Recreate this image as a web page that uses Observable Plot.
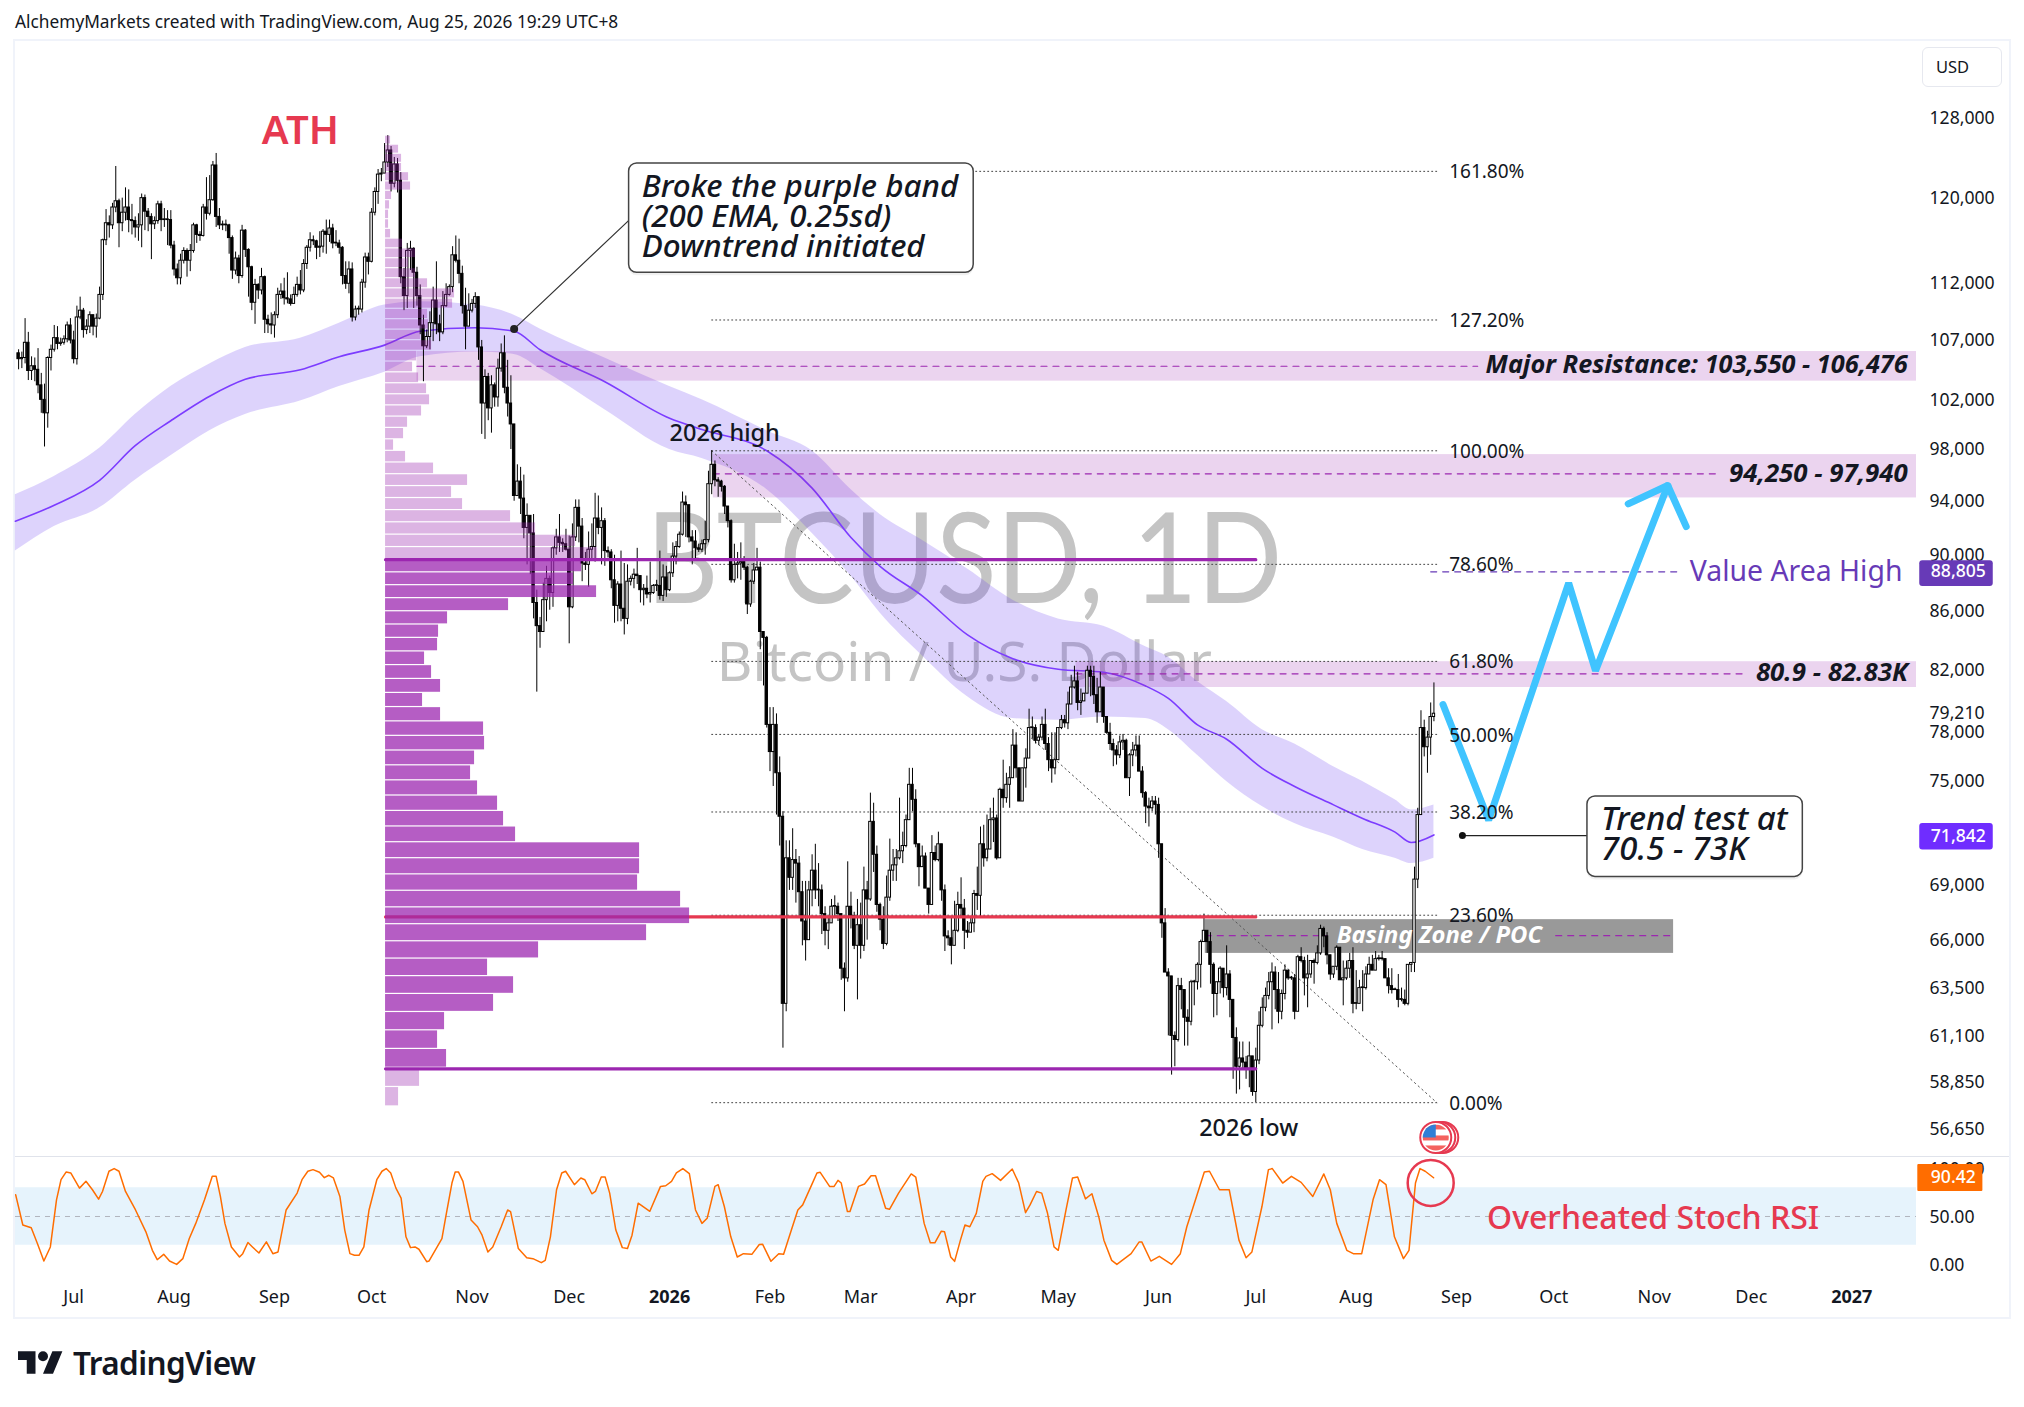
<!DOCTYPE html>
<html><head><meta charset="utf-8">
<script src="https://cdn.jsdelivr.net/npm/d3@7"></script>
<script src="https://cdn.jsdelivr.net/npm/@observablehq/plot@0.6"></script>
<style>
html,body{margin:0;padding:0;background:#fff;width:2024px;height:1407px;overflow:hidden;font-family:"Noto Sans",sans-serif;color:#131722}
#head{position:absolute;left:15px;top:10px;font-size:17.3px;white-space:nowrap}
#frame{position:absolute;left:13px;top:39px;width:1994px;height:1276px;border:2px solid #f0f3fa}
#main,#osc{position:absolute;left:0}
#main{top:0}#osc{top:1115px}
#main svg,#osc svg{display:block;overflow:visible}
#sep{position:absolute;left:0;top:1115px;width:1994px;height:1px;background:#e0e3eb}
#usd{position:absolute;left:1907px;top:6px;width:78px;height:38px;border:1px solid #e6e8ef;border-radius:6px;font-size:16.5px;line-height:38px;text-indent:13px}
#logo{position:absolute;left:18px;top:1347px;height:30px;display:flex;align-items:center;gap:10px;font-size:31.5px;font-weight:600;letter-spacing:-.6px;color:#131722}
</style></head><body>
<div id="head">AlchemyMarkets created with TradingView.com, Aug 25, 2026 19:29 UTC+8</div>
<div id="frame"><div id="main"></div><div id="osc"></div><div id="sep"></div><div id="usd">USD</div></div>
<div id="logo"><svg width="45" height="23" viewBox="0 4 36 18"><path fill="#131722" d="M14 22H7V11H0V4h14v18zM28 22h-8l7.5-18h8L28 22z"/><circle fill="#131722" cx="20" cy="8" r="4"/></svg><span>TradingView</span></div>
<script>
// Daily closes, highs and lows in thousands of USD, one value per day from 14 Jun 2025
const closes=[
105.4,105.5,106.8,104.4,104.8,104.5,103.2,102.0,100.9,105.5,
106.2,107.2,106.7,106.8,107.1,108.3,107.0,105.4,109.0,109.6,
107.9,108.2,109.2,108.2,108.9,111.0,116.0,117.6,117.4,119.1,
119.7,117.6,118.6,119.1,117.9,117.8,117.2,117.4,120.0,118.7,
118.2,117.5,117.8,119.4,117.9,117.9,117.9,115.5,113.3,112.5,
114.1,115.0,114.1,115.0,117.4,116.5,116.4,119.1,118.5,119.8,
123.2,118.2,117.4,117.4,117.4,116.2,113.2,114.3,112.7,116.9,
115.1,113.5,110.3,111.9,111.4,112.6,108.8,108.4,108.3,109.2,
111.0,111.3,110.7,110.6,110.2,111.0,111.9,111.4,113.8,115.3,
116.0,115.9,115.3,115.4,116.8,116.5,117.1,115.7,115.7,115.3,
112.7,112.0,113.3,109.0,109.7,109.7,112.1,114.4,114.0,118.6,
120.6,122.3,122.4,123.5,124.7,121.4,123.3,121.7,112.6,110.9,
115.0,115.2,113.0,110.9,108.3,106.5,107.3,108.5,110.5,108.4,
107.7,110.0,111.0,111.7,114.6,114.1,112.9,110.0,108.2,109.6,
110.2,110.8,106.4,101.7,103.9,101.3,103.2,102.2,104.6,105.9,
103.0,101.7,100.0,94.4,95.5,94.2,92.0,92.9,91.6,86.6,
85.0,84.6,86.8,88.3,87.3,90.5,91.3,90.9,90.8,90.4,
86.3,91.3,93.5,92.1,89.4,89.3,90.4,90.6,92.7,92.0,
92.5,90.3,90.2,88.2,86.4,87.9,86.2,85.5,88.1,88.3,
88.6,88.5,87.5,87.6,87.2,87.3,87.8,87.8,87.1,88.4,
87.5,88.7,89.9,90.6,91.5,93.9,93.7,91.3,91.0,90.5,
90.4,90.8,91.1,95.3,96.8,95.6,95.5,95.1,93.6,92.5,
88.2,89.3,89.4,89.5,89.1,86.5,88.1,88.9,89.1,84.6,
84.2,78.5,76.8,78.5,75.5,72.9,62.7,70.5,69.4,70.4,
70.2,68.6,67.0,66.0,68.7,69.8,68.7,68.7,67.4,66.5,
66.9,67.8,67.8,67.4,64.5,64.0,67.8,67.3,65.7,66.8,
65.7,68.7,68.2,72.6,70.7,67.9,67.1,65.8,68.3,69.8,
70.1,70.5,70.9,71.2,72.7,74.8,73.9,71.3,70.0,70.6,
68.8,67.9,70.8,70.4,71.3,68.7,66.2,66.1,65.7,66.5,
67.9,67.7,66.5,66.4,66.9,68.5,68.4,71.3,70.5,71.0,
72.7,72.8,70.5,74.5,74.0,74.8,75.2,77.2,75.8,73.8,
75.8,76.4,78.3,78.3,77.5,77.7,78.5,77.3,76.3,75.8,
76.3,78.3,78.8,78.6,79.8,80.9,81.3,79.9,80.0,80.5,
82.0,81.6,80.4,79.3,80.9,79.0,78.0,77.3,76.9,76.6,
77.4,77.5,75.2,76.6,76.9,77.2,75.6,74.3,73.5,73.4,
73.8,73.6,71.3,66.9,64.3,64.1,61.1,60.9,63.6,63.4,
62.0,61.8,63.8,63.8,64.7,65.9,66.5,65.9,64.7,63.2,
63.8,64.5,63.5,64.2,62.9,61.0,59.6,60.0,59.8,59.5,
60.1,58.4,59.9,61.6,62.5,63.1,63.8,64.3,63.4,62.3,
63.2,64.4,64.0,64.0,62.3,65.1,64.9,64.0,64.2,64.9,
64.8,65.3,66.6,66.2,65.2,64.2,64.6,65.6,63.9,64.0,
64.5,64.9,62.7,62.7,63.5,63.5,64.2,64.7,64.4,65.0,
65.0,65.0,64.0,63.6,63.4,63.4,62.9,62.9,62.7,64.7,
64.8,69.3,73.0,78.3,77.1,77.7,79.0,79.21];
const highs=[
106.2,106.0,108.9,107.7,105.6,105.5,106.3,104.2,103.3,105.6,
106.6,108.3,108.2,107.2,107.4,108.6,108.9,107.8,110.0,110.8,
109.8,108.8,109.5,109.2,109.3,111.7,116.1,118.9,118.3,119.5,
123.1,119.9,120.0,121.0,120.8,119.4,118.2,118.5,120.4,120.3,
119.0,118.5,118.2,119.7,119.7,119.0,118.8,118.8,115.9,113.8,
114.7,115.3,115.2,115.6,117.6,117.5,116.8,119.4,122.0,122.2,
123.6,124.4,119.0,117.8,117.9,117.5,116.4,114.9,114.6,117.4,
117.0,115.2,113.6,112.4,112.0,113.4,112.7,109.2,109.4,109.5,
111.6,112.0,112.5,113.0,111.0,111.7,112.6,113.2,114.2,115.5,
116.7,116.4,116.0,116.8,117.0,117.9,117.9,117.5,116.9,116.0,
115.4,114.0,114.0,113.9,110.0,110.0,112.4,114.8,114.8,119.0,
121.0,122.8,122.9,125.4,126.2,125.1,124.0,123.9,122.5,113.4,
115.7,115.9,115.3,113.5,111.9,109.2,107.9,109.5,111.7,114.0,
109.2,111.3,112.0,111.9,115.4,116.4,116.1,113.6,111.6,111.1,
110.6,111.2,110.8,107.0,104.5,104.2,104.0,103.4,105.4,106.7,
107.4,105.3,104.0,99.8,96.8,96.6,96.0,93.8,92.8,93.0,
87.5,85.6,88.0,89.2,88.5,90.6,91.9,93.0,91.2,91.9,
91.4,92.3,94.1,94.1,92.7,90.2,91.7,92.3,94.6,94.4,
93.5,92.7,90.6,90.4,90.0,88.1,90.3,89.4,89.3,88.5,
89.0,90.5,88.0,87.9,88.5,89.5,87.9,88.2,90.3,89.3,
89.2,88.8,90.9,91.0,91.7,94.7,94.4,93.5,91.8,91.8,
90.8,91.1,92.5,96.3,97.9,97.1,95.8,95.6,95.2,93.6,
92.6,90.8,90.2,90.9,89.9,89.2,88.2,89.4,90.5,89.5,
84.3,84.3,79.6,79.6,79.2,76.5,73.2,71.5,71.5,72.2,
71.0,70.6,69.2,69.2,69.2,70.7,71.3,70.2,69.0,67.8,
67.2,68.2,68.4,68.0,67.4,64.8,70.3,68.6,67.5,68.2,
68.0,70.0,69.2,74.3,73.7,71.2,68.0,67.8,69.5,71.6,
71.0,71.0,74.0,72.0,73.0,75.8,75.8,74.5,71.2,71.2,
70.8,68.8,71.8,71.2,72.0,71.2,69.0,66.5,67.2,68.1,
68.6,69.4,68.2,67.0,67.2,68.7,70.0,72.3,72.4,73.0,
73.4,74.0,73.0,74.6,76.3,75.5,75.9,78.2,78.0,75.6,
75.6,77.0,79.5,79.0,78.5,77.9,79.0,79.5,77.7,78.0,
78.0,78.3,79.1,79.1,80.6,81.7,82.3,81.9,80.8,80.5,
82.3,82.3,82.3,81.5,81.9,80.9,78.4,78.6,77.6,77.2,
77.8,77.9,77.6,76.7,77.4,77.8,77.8,75.9,74.4,74.0,
74.1,74.1,74.0,71.3,67.7,64.5,64.0,61.3,64.0,64.0,
63.1,62.4,63.9,63.9,64.8,66.0,67.4,66.3,66.4,64.8,
63.8,64.6,64.4,65.7,64.4,62.5,61.5,60.8,60.8,60.1,
60.8,60.1,60.5,62.3,63.0,63.5,64.3,64.8,64.6,64.3,
63.4,64.7,64.4,64.1,64.2,65.2,65.6,65.1,65.2,64.9,
65.0,65.7,66.8,66.7,66.4,65.2,64.6,65.7,65.6,64.9,
64.9,65.3,65.6,64.4,63.9,64.4,64.6,65.1,65.2,65.4,
65.2,65.4,65.0,64.5,64.5,63.5,64.2,63.5,63.4,64.7,
64.8,70.0,73.4,79.4,78.8,78.1,79.9,81.2];
const lows=[
104.5,104.6,105.0,103.6,103.6,103.5,102.5,100.9,98.2,99.7,
104.4,106.0,106.2,106.5,106.6,106.8,106.7,105.0,104.9,108.8,
107.2,107.5,107.6,107.4,107.2,108.8,110.5,115.5,116.2,117.0,
118.6,115.3,116.8,117.8,116.7,116.5,116.2,115.9,115.3,116.9,
116.8,114.2,117.0,117.5,116.8,117.2,115.5,115.2,112.7,111.9,
111.9,113.8,112.6,113.1,114.8,115.7,115.9,116.3,117.9,118.3,
119.7,117.2,117.0,116.9,116.8,114.7,112.4,112.8,112.0,112.5,
114.4,110.8,109.6,108.4,110.6,111.0,107.6,107.6,107.5,107.2,
108.9,110.6,110.1,110.2,110.0,110.2,110.8,111.0,111.2,113.3,
114.9,115.5,114.2,114.4,114.8,114.7,115.8,115.2,115.4,114.7,
111.9,111.5,111.1,108.6,108.7,109.2,109.4,111.6,112.8,113.9,
118.3,119.4,121.6,122.4,123.0,120.6,121.0,120.5,112.0,109.6,
109.8,113.2,109.8,110.0,107.5,103.5,106.3,106.2,106.9,107.5,
106.9,107.5,109.9,110.9,111.2,113.9,112.0,109.3,106.2,108.3,
109.4,109.8,105.3,99.2,98.8,100.3,99.3,101.4,101.4,104.3,
102.5,100.6,98.0,94.0,94.6,93.0,91.2,89.3,88.6,85.5,
80.6,83.5,84.7,85.3,86.1,86.3,90.0,90.2,90.2,90.3,
83.8,86.2,91.0,90.9,88.1,88.9,87.7,89.6,89.5,91.5,
89.3,89.2,89.8,87.6,85.2,85.3,85.3,84.4,85.1,87.8,
87.6,87.9,86.6,86.4,86.9,86.6,87.2,87.4,86.8,86.7,
87.0,87.4,88.4,89.3,90.5,91.4,91.3,90.9,89.3,89.6,
90.2,90.2,90.0,90.9,94.5,95.1,94.3,94.7,93.0,92.0,
88.0,88.0,88.3,88.2,88.9,85.8,86.3,87.9,88.9,83.4,
81.0,78.3,75.6,74.7,73.0,71.2,60.5,62.3,68.7,68.7,
68.0,67.2,65.7,64.9,66.3,67.8,68.2,67.8,66.3,65.7,
65.5,66.9,67.2,67.0,63.9,62.3,63.8,66.6,65.5,62.9,
65.0,65.4,66.0,68.1,69.7,67.5,66.5,65.5,65.7,68.1,
69.2,69.2,70.4,70.2,71.1,72.7,73.2,71.1,68.9,70.0,
68.8,67.4,67.9,70.3,70.3,68.1,65.4,65.7,64.7,65.7,
66.4,67.2,65.5,66.1,66.8,66.4,67.6,67.2,70.0,70.3,
71.4,71.4,70.4,70.5,73.4,73.7,73.4,75.2,75.2,73.8,
73.8,74.6,76.4,77.6,77.3,77.2,77.5,76.9,75.6,74.9,
75.4,76.3,78.2,78.3,78.2,80.3,80.8,79.4,79.1,80.0,
80.5,80.3,79.8,78.6,79.3,78.6,77.9,76.9,75.9,76.0,
76.4,76.9,75.2,74.1,75.9,76.5,75.6,74.0,72.5,72.3,
73.2,73.0,70.5,66.1,64.3,61.1,59.2,59.6,60.8,62.4,
60.6,60.6,61.6,62.6,63.4,63.5,65.9,65.3,63.7,62.0,
62.1,63.2,63.0,63.1,62.0,59.0,58.3,58.5,59.5,59.0,
58.6,58.2,57.9,59.7,61.5,62.3,62.9,61.4,62.4,61.7,
61.9,62.9,63.9,63.9,61.9,62.3,64.8,63.1,62.5,64.0,
63.7,64.7,65.2,65.6,64.7,63.9,64.0,64.4,63.9,62.6,
63.9,64.0,62.2,62.4,62.7,62.3,63.4,64.3,64.4,64.5,
64.9,64.9,64.0,63.2,63.2,63.4,62.5,62.8,62.6,62.6,
64.3,64.3,68.8,73.0,76.5,75.5,76.6,78.7];

// EMA band, read at these days (offset from 1 Jan 2026)
const emaDays=[-202,-190,-176,-165,-154,-142,-131,-114,-102,-88,-77,-60,-48,-40,-20,0,10,30,44,56,65,78,92,106,120,134,147,154,163,172,183,193,205,214,224,229,236];
const emaLine=[92.5,93.7,95.6,98.3,100.3,102.3,103.7,104.5,105.6,106.6,107.8,108.1,107.8,106.2,103.5,100.5,99.6,97.9,95,91.3,89.2,87.1,84.4,82.8,82.1,81.9,81,80.2,78.5,77.6,75.8,74.7,73.6,72.8,72,71.4,71.84];
const emaTop=[94.5,95.9,98.1,100.8,103.1,105,106.4,107.2,108.5,110.1,110.4,110.1,109.2,108,105.5,103.1,102,99.5,97.9,94.9,93,91.1,89,86.8,85.5,85,83.6,82.9,81.3,80,78.2,77.3,75.9,75,73.9,73.3,73.6];
const emaBottom=[90.3,92.1,93.5,95.6,97.5,99.5,100.8,101.9,103.1,104.3,105.6,106,105.8,104.6,101.2,98,97.3,94.9,91.6,88.5,85.9,83,80.3,78.9,78.8,79,78.9,78.2,76.6,75,73.5,72.5,71.7,71,70.5,70.2,70.5];

// Volume profile, top row first, each row one equal price bucket
const profileVolume=[5,13,16,16,23,25,6,4,3,3,5,17,30,23,30,42,69,67,42,43,35,46,31,27,33,41,44,36,22,18,8,20,48,82,66,77,125,150,190,212,196,188,211,123,62,53,52,39,46,55,37,55,98,99,89,85,92,112,118,130,254,254,252,295,304,261,153,102,128,108,59,52,61,34,13];

// Stochastic RSI
const stochDay=[-201.9,-199.7,-197.1,-195.2,-193.2,-191.2,-189.3,-187.9,-186.3,-184.9,-182.2,-180.2,-178.2,-176.3,-175.1,-173.1,-171.5,-170,-168,-164.9,-161.7,-159.7,-158.2,-156.2,-154.4,-152.2,-150.3,-148.3,-146.3,-143.6,-141.2,-140,-138.7,-137.3,-135.3,-132.8,-131.8,-130.2,-128.8,-126.8,-124.5,-122.5,-120.9,-118.4,-115,-113.5,-111.7,-110.1,-108.1,-106.6,-105.2,-103.8,-101.8,-100.3,-98.7,-97.3,-95.9,-94.4,-92.8,-90.4,-88.8,-87.5,-86.1,-84.5,-82.9,-81.4,-80,-78.6,-77.4,-75,-74.3,-70.3,-69.1,-67.2,-66.2,-65.2,-63.8,-61.3,-59.3,-57.9,-56.1,-54.6,-52,-50,-49.1,-46.7,-44.1,-42.2,-39.6,-38.4,-36.8,-34.9,-33.3,-32.1,-29.4,-27.4,-26.2,-24,-22.9,-21.1,-19.9,-18.5,-16.6,-14.6,-13,-11.6,-9.7,-6.1,-2.8,-1.2,0.6,2.1,4.1,6.1,8,10,11.6,14,15,16.9,18.9,20.9,22.8,25.4,27.7,28.7,31.3,33.7,35.2,37.6,39.6,41.1,43.9,45.5,46.5,49.4,50.8,52,53,54.9,55.7,58.3,60.2,62.2,63.6,66.7,67.9,70.7,74.6,76,78.6,80.5,81.9,83.9,84.9,86.8,88,89.8,91.2,92.7,94.7,96.7,97.7,99.6,102.2,105.8,107.8,109.9,111.3,113.3,114.9,116.7,118.7,120,122.4,124.4,126,128.4,130.4,132.5,134.1,136.5,138.1,142.5,145,145.8,148.6,151.2,155,157.7,159.7,162.7,165.1,166.7,169.8,172.8,175.8,178,179.8,182.9,184.9,186.1,189.3,192,195,198.6,202,204,206,209.1,211.1,213.7,217.2,219.2,221.2,223.8,226.6,228.3,230.3,231.7,233.3,235.9];
const stochValue=[72.6,41.1,38.2,21.8,3.5,18.2,67.4,88.4,96.5,95.4,79.6,86.7,77.9,68.1,76.1,97.2,100,97.2,76.1,56.8,34,14.7,4.9,10.5,3.5,0,6,27,42.8,67.4,91.9,91.9,70.9,42.8,18.2,7.7,11.2,22.8,18.2,11.9,23.5,11.2,13,56.8,74.4,88.4,97.2,98.9,96.1,90.5,93,90.2,70.9,35.8,11.2,9.5,9.5,18.2,56.8,88.4,97.2,100,95.4,79.6,69.1,28.8,17.5,18.2,15.8,2.8,3.5,27,49.8,84.9,96.5,96.5,86.7,46.3,39.3,30.5,13,18.2,39.3,56.8,55.1,16.5,7,6,1.8,4.2,28.8,77.9,95.4,97.2,83.2,90.2,88.4,73.7,76.1,91.2,91.2,74.4,35.8,17.5,16.5,30.5,63.9,55.4,81.4,82.1,86.7,95.4,100,94.7,56.8,42.8,48.1,81.4,83.2,60.4,28.8,7.7,11.2,10.5,20.7,21.1,3.2,11.2,10.5,35.8,56.8,62.1,83.2,95.4,96.1,81.4,81.4,87.7,84.9,55.1,55.1,81.4,83.9,92.6,92.6,58.6,57.5,74.4,94.4,91.2,42.8,22.5,22.5,34.7,34,7.7,3.2,25.3,41.1,39.3,53.3,86.7,91.9,94.7,87.7,99.6,84.9,54,62.1,76.1,74.4,53.3,18.2,14.7,56.8,90.2,91.2,68.4,73.7,49.8,25.3,4.2,0,11.2,23.5,23.5,3.5,8.4,0,11.2,39.3,70.9,96.5,97.2,77.9,77.9,25.3,7,13,60.4,98.9,100,84.9,91.9,85.6,70.9,94.4,77.9,42.8,14.7,11.2,11.2,67.4,88.4,83.2,28.8,6,14.7,84.9,100,97.2,90.42];

// Axis ticks and labels
const priceTicks=[128,120,112,107,102,98,94,90,86,82,79.21,78,75,69,66,63.5,61.1,58.85,56.65];
const monthTicks=[["Jul",-184],["Aug",-153],["Sep",-122],["Oct",-92],["Nov",-61],["Dec",-31],["Feb",31],["Mar",59],["Apr",90],["May",120],["Jun",151],["Jul",181],["Aug",212],["Sep",243],["Oct",273],["Nov",304],["Dec",334]];
const yearTicks=[["2026",0],["2027",365]];

// Fibonacci levels (ratio, price in thousands)
const fibLevels=[[0,"0.00%",57.9],[.236,"23.60%",67.34],[.382,"38.20%",73.18],[.5,"50.00%",77.9],[.618,"61.80%",82.62],[.786,"78.60%",89.34],[1,"100.00%",97.9],[1.272,"127.20%",108.78],[1.618,"161.80%",122.62]];

// Zones: start day, low, high, midline, dash end day
const zones=[[-78,103.55,106.05,104.8,249.5],[13.5,94.25,97.6,96.1,323.8],[125.5,80.9,82.6,81.8,332.4]];

// Forecast path drawn in cyan (day, price)
const pathDays=[238.8,252.9,277.6,285.9,308.2];
const pathPrices=[79.8,72.7,88,82,95.2];
const headDays=[296,308.2,313.9];
const headPrices=[93.8,95.2,92.1];

const FONT='"Noto Sans",sans-serif';
const day=d=>new Date(Date.UTC(2026,0,1)+d*864e5);
const xDomain=[day(-201.96),day(385)];
const profileStart=-87.7;
const candles=closes.map((c,i)=>{
  const o=i?closes[i-1]:105.9;
  const d=i-201;
  const top=Math.max(o,c),bot=Math.min(o,c);
  return {t:day(d),a:day(d-.37),b:day(d+.37),o,c,top:Math.max(top,bot*1.0006),bot,hi:Math.max(highs[i],top),lo:Math.min(lows[i],bot),up:c>=o};
});
const ema=emaDays.map((d,i)=>({t:day(d),v:emaLine[i],a:emaTop[i],b:emaBottom[i]}));
const rows=profileVolume.map((v,i)=>({hi:126.2-i*.913,lo:126.2-(i+1)*.913,a:day(profileStart),b:day(profileStart+v/3.2384),va:i>=40&&i<=72}));
const seg=(a,b,p)=>[{t:day(a),v:p},{t:day(b),v:p}];
const PURPLE="#9c27b0",RED="#e63950";
const T=(txt,d,p,o={})=>Plot.text([txt],{x:day(d),y:p,text:x=>x,fontFamily:FONT,textAnchor:"start",lineAnchor:"middle",fill:"#131722",...o});
const dashed=(a,b,p,c=PURPLE)=>Plot.line(seg(a,b,p),{x:"t",y:"v",stroke:c,strokeWidth:1.2,strokeDasharray:"6,6"});
const box=(a,b,lo,hi,o)=>Plot.rect([0],{x1:day(a),x2:day(b),y1:lo,y2:hi,...o});

const flag="data:image/svg+xml,"+encodeURIComponent('<svg xmlns="http://www.w3.org/2000/svg" viewBox="0 0 44 36"><circle cx="25" cy="18" r="15.5" fill="#fff" stroke="#e63950" stroke-width="2"/><circle cx="22" cy="18" r="15.5" fill="#fff" stroke="#e63950" stroke-width="2"/><circle cx="18" cy="18" r="15.5" fill="#fff" stroke="#e63950" stroke-width="2"/><clipPath id="c"><circle cx="18" cy="18" r="13"/></clipPath><g clip-path="url(#c)"><rect x="3" y="5" width="30" height="26" fill="#fff"/><rect x="3" y="16" width="30" height="5" fill="#f4625f"/><rect x="3" y="26" width="30" height="6" fill="#f4625f"/><rect x="3" y="5" width="30" height="5" fill="#f4625f"/><rect x="3" y="4" width="15" height="14" fill="#2f7fd6"/></g></svg>');

const main=Plot.plot({
  width:1994,height:1115,marginTop:0,marginBottom:0,marginLeft:0,marginRight:93,
  style:{fontFamily:FONT,background:"transparent",overflow:"visible"},
  x:{type:"utc",domain:xDomain,axis:null},
  y:{type:"log",domain:[55.443,136.143],axis:null},
  marks:[
    // watermark
    T("BTCUSD, 1D",91,89.5,{textAnchor:"middle",fontFamily:'Lato,sans-serif',fontSize:127,fill:"#c4c4c4",fontWeight:400}),
    T("Bitcoin / U.S. Dollar",91,82.5,{textAnchor:"middle",fontSize:55,fill:"#c4c4c4"}),
    // EMA band
    Plot.areaY(ema,{x:"t",y1:"b",y2:"a",fill:"#6a3ff0",fillOpacity:.23,curve:"monotone-x"}),
    Plot.line(ema,{x:"t",y:"v",stroke:"#7c3cff",strokeWidth:1.6,curve:"monotone-x"}),
    // zones
    ...zones.map(z=>box(z[0],385,z[1],z[2],{fill:PURPLE,fillOpacity:.2})),
    ...zones.map(z=>dashed(z[0],z[4],z[3])),
    box(165.4,310,65.3,67.1,{fill:"#999"}),
    dashed(165.4,203,66.24),dashed(273.6,309,66.24),
    dashed(235,311,88.805,"#673ab7"),
    // fib
    ...fibLevels.map(f=>Plot.line(seg(13,236.9,f[2]),{x:"t",y:"v",stroke:"#444",strokeWidth:1,strokeDasharray:"1,3"})),
    Plot.line([{t:day(13),v:97.9},{t:day(236.9),v:57.9}],{x:"t",y:"v",stroke:"#555",strokeWidth:1,strokeDasharray:"1.5,3.5"}),
    // candles
    Plot.ruleX(candles,{x:"t",y1:"lo",y2:"hi",stroke:"#000",strokeWidth:1}),
    Plot.rect(candles,{x1:"a",x2:"b",y1:"bot",y2:"top",fill:d=>d.up?"#fff":"#000",stroke:"#000",strokeWidth:1}),
    // profile lines and rows
    Plot.line(seg(profileStart,181,89.68),{x:"t",y:"v",stroke:PURPLE,strokeWidth:3.2}),
    Plot.line(seg(profileStart,181,67.25),{x:"t",y:"v",stroke:RED,strokeWidth:3.2}),
    Plot.line(seg(profileStart,181,59.5),{x:"t",y:"v",stroke:PURPLE,strokeWidth:3.2}),
    Plot.rect(rows,{x1:"a",x2:"b",y1:"lo",y2:"hi",insetTop:.6,insetBottom:.6,fill:PURPLE,fillOpacity:d=>d.va?.75:.35}),
    // forecast
    Plot.line(pathDays.map((d,i)=>({t:day(d),v:pathPrices[i]})),{x:"t",y:"v",stroke:"#40c4ff",strokeWidth:7,strokeLinecap:"round",strokeLinejoin:"miter"}),
    Plot.line(headDays.map((d,i)=>({t:day(d),v:headPrices[i]})),{x:"t",y:"v",stroke:"#40c4ff",strokeWidth:7,strokeLinecap:"round",strokeLinejoin:"miter"}),
    // fib labels
    ...fibLevels.map(f=>T(f[1],240.7,f[2],{fontSize:19,dy:1})),
    // labels
    T("ATH",-114,126.7,{textAnchor:"middle",fontSize:40,fontWeight:600,fill:RED}),
    T("2026 high",17,99.3,{textAnchor:"middle",fontSize:23.5,fontWeight:500}),
    T("2026 low",178.8,56.7,{textAnchor:"middle",fontSize:23.5,fontWeight:500}),
    T("Major Resistance: 103,550 - 106,476",385-2.7,104.9,{textAnchor:"end",fontSize:25.3,fontWeight:700,fontStyle:"italic"}),
    T("94,250 - 97,940",385-2.7,96.1,{textAnchor:"end",fontSize:25.8,fontWeight:700,fontStyle:"italic"}),
    T("80.9 - 82.83K",385-2.7,81.85,{textAnchor:"end",fontSize:25.8,fontWeight:700,fontStyle:"italic"}),
    T("Basing Zone / POC",206,66.24,{fontSize:23.8,fontWeight:700,fontStyle:"italic",fill:"#fff"}),
    T("Value Area High",315,88.805,{fontSize:28.4,fill:"#673ab7"}),
    // callouts
    Plot.line([{t:day(-12.5),v:117.9},{t:day(-48),v:108}],{x:"t",y:"v",stroke:"#333",strokeWidth:1.2}),
    Plot.dot([0],{x:day(-48),y:108,r:4,fill:"#222"}),
    box(-12.5,93.9,113,123.4,{fill:"#000",fillOpacity:.06,rx:8,dy:3}),
    box(-12.5,93.9,113,123.4,{fill:"#fff",stroke:"#444",strokeWidth:1.5,rx:8}),
    T("Broke the purple band",-8.6,121.1,{fontSize:31.4,fontWeight:500,fontStyle:"italic"}),
    T("(200 EMA, 0.25sd)",-8.6,118.2,{fontSize:31.4,fontWeight:500,fontStyle:"italic"}),
    T("Downtrend initiated",-8.6,115.4,{fontSize:31.4,fontWeight:500,fontStyle:"italic"}),
    Plot.line(seg(244.8,283.4,71.8),{x:"t",y:"v",stroke:"#222",strokeWidth:1.2}),
    Plot.dot([0],{x:day(244.8),y:71.8,r:3.5,fill:"#111"}),
    box(283.4,349.9,69.45,74.1,{fill:"#000",fillOpacity:.06,rx:8,dy:3}),
    box(283.4,349.9,69.45,74.1,{fill:"#fff",stroke:"#444",strokeWidth:1.5,rx:8}),
    T("Trend test at",287.6,72.75,{fontSize:33,fontWeight:500,fontStyle:"italic"}),
    T("70.5 - 73K",287.6,71.0,{fontSize:33,fontWeight:500,fontStyle:"italic"}),
    Plot.image([0],{x:day(237.8),y:56.3,width:44,height:36,src:flag}),
    // price axis
    Plot.axisY(priceTicks,{anchor:"right",tickSize:0,tickPadding:13,label:null,tickFormat:d=>d3.format(",")(Math.round(d*1000)),fontSize:17.6,fill:"#131722",textStroke:"#fff"}),
    box(386,408.7,87.76,89.6,{fill:"#673ab7",rx:3}),
    T("88,805",389.4,88.805,{fontSize:17.6,fontWeight:500,fill:"#fff"}),
    box(386,408.7,70.97,72.5,{fill:"#6f2dff",rx:3}),
    T("71,842",389.4,71.78,{fontSize:17.6,fontWeight:500,fill:"#fff"})
  ]
});
document.getElementById("main").append(main);
// The watermark's typeface runs wider than the reference: fit it to the reference's width
main.querySelectorAll("text").forEach(t=>{
  if(t.textContent==="BTCUSD, 1D"){t.setAttribute("textLength",636);t.setAttribute("lengthAdjust","spacingAndGlyphs");}
});

const stoch=stochDay.map((d,i)=>({t:day(d),v:stochValue[i]}));
const yearLabels=Object.fromEntries(yearTicks.map(y=>[+day(y[1]),y[0]]));
const monthLabels=Object.fromEntries(monthTicks.map(m=>[+day(m[1]),m[0]]));
const osc=Plot.plot({
  width:1994,height:161,marginTop:0,marginBottom:37,marginLeft:0,marginRight:93,
  style:{fontFamily:FONT,background:"transparent",overflow:"visible"},
  x:{type:"utc",domain:xDomain,axis:null},
  y:{domain:[-16.8,112.6],axis:null},
  marks:[
    box(-201.96,385,20,80,{fill:"#e6f3fc"}),
    Plot.ruleY([50],{x1:day(-201.96),x2:day(385),stroke:"#b2b5be",strokeWidth:1,strokeDasharray:"5,5"}),
    Plot.line(stoch,{x:"t",y:"v",stroke:"#ff6d00",strokeWidth:1.5}),
    Plot.dot([0],{x:day(235),y:85,r:23,stroke:RED,strokeWidth:2.5,fill:"none"}),
    T("Overheated Stoch RSI",252.4,50,{fontSize:32,fontWeight:500,fill:RED,dy:2}),
    Plot.axisY([0,50,100],{anchor:"right",tickSize:0,tickPadding:13,label:null,tickFormat:d3.format(".2f"),fontSize:17.6,fill:"#131722",dy:1}),
    Plot.axisX(monthTicks.map(m=>day(m[1])),{anchor:"bottom",tickSize:0,tickPadding:10,label:null,tickFormat:d=>monthLabels[+d],fontSize:18,fill:"#131722"}),
    Plot.axisX(yearTicks.map(y=>day(y[1])),{anchor:"bottom",tickSize:0,tickPadding:10,label:null,tickFormat:d=>yearLabels[+d],fontSize:18,fontWeight:700,fill:"#131722"}),
    box(385.4,405.5,76.1,104.2,{fill:"#ff6d00",rx:1}),
    T("90.42",389.4,90.42,{fontSize:17.6,fontWeight:500,fill:"#fff"})
  ]
});
document.getElementById("osc").append(osc);
</script>
</body></html>
